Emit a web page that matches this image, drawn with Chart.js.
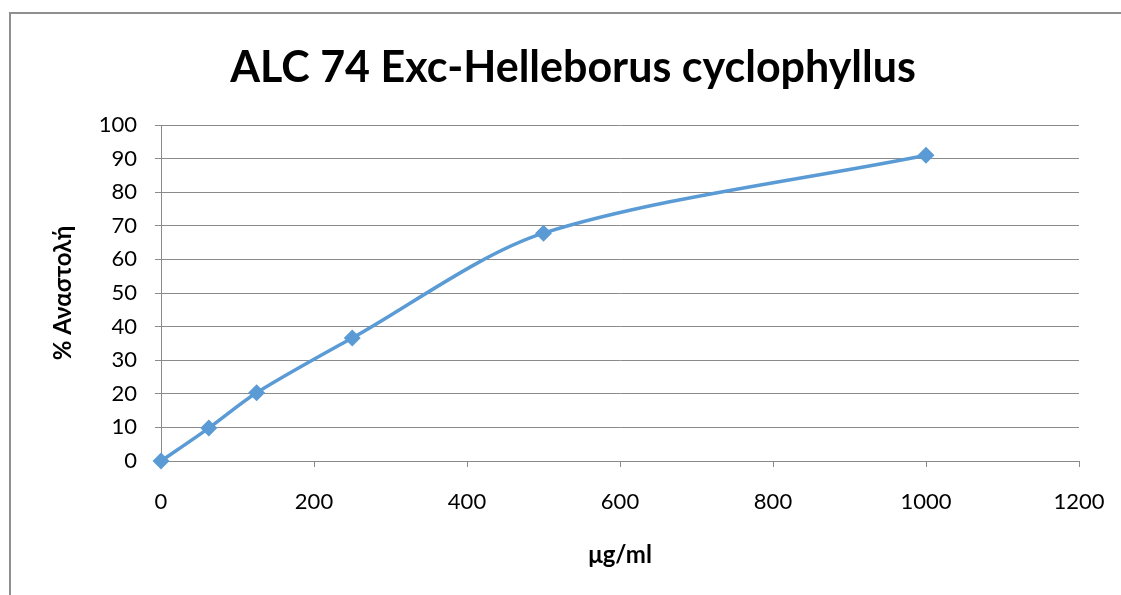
<!DOCTYPE html>
<html>
<head>
<meta charset="utf-8">
<script src="https://cdn.jsdelivr.net/npm/chart.js@4"></script>
<style>
  html, body { margin: 0; padding: 0; background: #fff; }
  #wrap { position: relative; width: 1121px; height: 595px; overflow: hidden; }
  #frame { position: absolute; left: 9px; top: 12px; width: 1200px; height: 700px; border: 2px solid #8f8f8f; pointer-events: none; }
</style>
</head>
<body>
<div id="wrap">
  <canvas id="chart" width="1121" height="595"></canvas>
  <div id="frame"></div>
</div>
<script>
// Data
const concentrations = [0, 62.5, 125, 250, 500, 1000];
const inhibition = [0, 9.8, 20.3, 36.6, 67.8, 91];

const lineColor = '#5b9bd5';
const gridColor = '#8a8a8a';
const fontFamily = 'Lato, "Open Sans", sans-serif';

const points = concentrations.map((x, i) => ({ x: x, y: inhibition[i] }));

new Chart(document.getElementById('chart'), {
  type: 'scatter',
  data: {
    datasets: [{
      data: points,
      showLine: true,
      clip: false,
      borderColor: lineColor,
      backgroundColor: lineColor,
      borderWidth: 3.5,
      tension: 0.3,
      pointStyle: 'rectRot',
      pointRadius: 6,
      pointHoverRadius: 6
    }]
  },
  options: {
    responsive: false,
    animation: false,
    layout: { padding: { left: 25, right: 0, top: 0, bottom: 0 } },
    plugins: {
      legend: { display: false },
      tooltip: { enabled: false },
      title: {
        display: true,
        text: 'ALC 74 Exc-Helleborus cyclophyllus',
        color: '#000',
        font: { family: fontFamily, size: 43, weight: 'bold', lineHeight: 1.2 },
        padding: { top: 42, bottom: 31.4 }
      }
    },
    scales: {
      x: {
        type: 'linear',
        min: 0,
        max: 1200,
        ticks: {
          stepSize: 200,
          color: '#000',
          padding: 22,
          font: { family: fontFamily, size: 22 },
          callback: v => String(v)
        },
        grid: { drawOnChartArea: false, drawTicks: true, tickLength: 6, color: gridColor },
        border: { display: true, color: gridColor, width: 1 },
        title: {
          display: true,
          text: 'μg/ml',
          color: '#000',
          font: { family: fontFamily, size: 24, weight: 'bold', lineHeight: 1.2 },
          padding: { top: 0, bottom: 25 }
        },
        afterFit: scale => {
          scale.height = 134;
          scale.paddingLeft = 0;
          scale.paddingRight = 42;
        }
      },
      y: {
        min: 0,
        max: 100,
        ticks: {
          stepSize: 10,
          color: '#000',
          padding: 18,
          font: { family: fontFamily, size: 22 }
        },
        grid: { color: gridColor, tickLength: 6 },
        border: { display: true, color: gridColor, width: 1 },
        title: {
          display: true,
          text: '% Αναστολή',
          color: '#000',
          font: { family: fontFamily, size: 24, weight: 'bold', lineHeight: 1.2 },
          padding: { top: 24, bottom: 0 }
        },
        afterFit: scale => { scale.width = 136; }
      }
    }
  }
});
</script>
</body>
</html>
